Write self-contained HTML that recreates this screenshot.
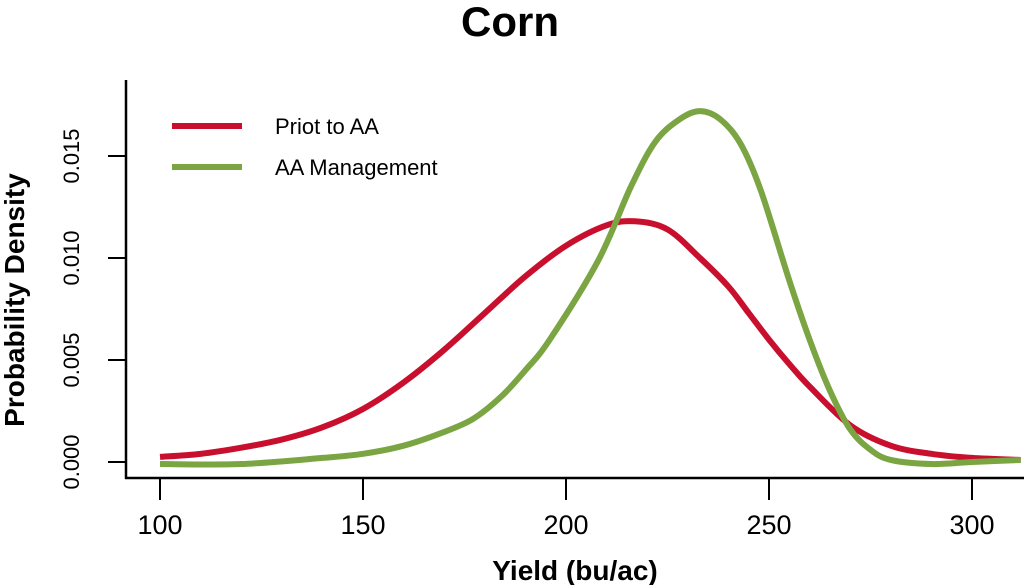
<!DOCTYPE html>
<html><head><meta charset="utf-8"><style>
html,body{margin:0;padding:0;background:#fff;}
svg{display:block;font-family:"Liberation Sans",sans-serif;}
</style></head><body>
<svg id="chart" width="1024" height="585" viewBox="0 0 1024 585">
<text x="510" y="36" text-anchor="middle" font-size="42" font-weight="bold">Corn</text>
<g id="axes"></g>
<g id="series"></g>
<g>
<line x1="172" y1="126" x2="242" y2="126" stroke="#c8102e" stroke-width="6"/>
<text x="275" y="134" font-size="22">Priot to AA</text>
<line x1="172" y1="167" x2="242" y2="167" stroke="#7aa542" stroke-width="6"/>
<text x="275" y="175" font-size="22">AA Management</text>
</g>
<text x="575" y="580" text-anchor="middle" font-size="28" font-weight="bold">Yield (bu/ac)</text>
<text transform="translate(24,300) rotate(-90)" text-anchor="middle" font-size="28" font-weight="bold">Probability Density</text>
</svg>
<script>
const xTicks = [100, 150, 200, 250, 300];
const yTicks = [0, 0.005, 0.010, 0.015];
const yTickLabels = ["0.000", "0.005", "0.010", "0.015"];
const priorX = [100,110,120,130,140,150,160,170,180,190,200,210,217,225,233,240,245,250,255,260,270,280,290,300,312];
const priorY = [0.00025,0.0004,0.0007,0.0011,0.0017,0.0026,0.0039,0.0055,0.0073,0.0091,0.0106,0.0116,0.0118,0.0114,0.0100,0.0086,0.0073,0.0060,0.0048,0.0037,0.0018,0.0008,0.0004,0.0002,0.0001];
const aaX = [100,120,140,150,160,169,177,184,190,196,208,216,222,228,233,238,243,248,255,260,265,270,275,280,290,300,312];
const aaY = [-0.0001,-0.0001,0.0002,0.0004,0.0008,0.0014,0.0021,0.0032,0.0045,0.0060,0.0099,0.0135,0.0157,0.0168,0.0172,0.0168,0.0156,0.0133,0.0089,0.0060,0.0035,0.0016,0.0006,0.0001,-0.0001,0,0.0001];

const sx = v => 160 + (v - 100) * 4.06;
const sy = v => 462 - v * 20400;
const NS = "http://www.w3.org/2000/svg";
const axes = document.getElementById('axes');
const series = document.getElementById('series');
function mk(tag, attrs, parent) {
  const e = document.createElementNS(NS, tag);
  for (const k in attrs) e.setAttribute(k, attrs[k]);
  parent.appendChild(e);
  return e;
}
const yAxis = mk('line', {x1:126, y1:80, x2:126, y2:479, stroke:'#000', 'stroke-width':2.5}, axes);


const xAxis = mk('line', {x1:125, y1:478, x2:1024, y2:478, stroke:'#000', 'stroke-width':2.5}, axes);


xTicks.forEach(t => {
  const x = sx(t);
  const tk = mk('line', {x1:x, y1:478, x2:x, y2:500, stroke:'#000', 'stroke-width':2}, axes);
  
  
  const lb = mk('text', {x:x, y:534, 'text-anchor':'middle', 'font-size':27}, axes);
  lb.textContent = t;
  
  
});
yTicks.forEach((t, i) => {
  const y = sy(t);
  const tk = mk('line', {x1:108, y1:y, x2:126, y2:y, stroke:'#000', 'stroke-width':2}, axes);
  
  
  const lb = mk('text', {transform:`translate(79,${y}) rotate(-90)`, 'text-anchor':'middle', 'font-size':22}, axes);
  lb.textContent = yTickLabels[i];
  
  
});
function pathFrom(xs, ys) {
  const p = xs.map((x, i) => [sx(x), sy(ys[i])]);
  let d = `M${p[0][0]},${p[0][1]}`;
  for (let i = 0; i < p.length - 1; i++) {
    const p0 = p[Math.max(0, i - 1)], p1 = p[i], p2 = p[i + 1], p3 = p[Math.min(p.length - 1, i + 2)];
    const c1 = [p1[0] + (p2[0] - p0[0]) / 6, p1[1] + (p2[1] - p0[1]) / 6];
    const c2 = [p2[0] - (p3[0] - p1[0]) / 6, p2[1] - (p3[1] - p1[1]) / 6];
    d += ` C${c1[0]},${c1[1]} ${c2[0]},${c2[1]} ${p2[0]},${p2[1]}`;
  }
  return d;
}
const redLine = mk('path', {d:pathFrom(priorX, priorY), fill:'none', stroke:'#c8102e', 'stroke-width':6}, series);


const greenLine = mk('path', {d:pathFrom(aaX, aaY), fill:'none', stroke:'#7aa542', 'stroke-width':6}, series);


</script>
</body></html>
